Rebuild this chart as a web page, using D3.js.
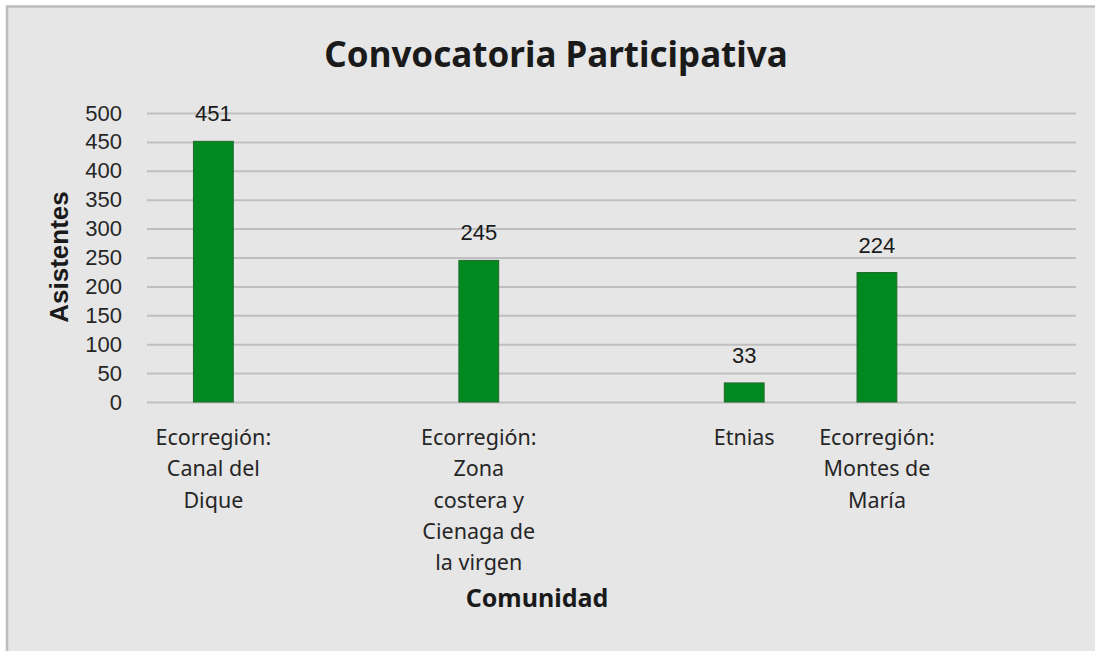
<!DOCTYPE html>
<html>
<head>
<meta charset="utf-8">
<script src="https://cdn.jsdelivr.net/npm/d3@7"></script>
<style>
  html, body { margin: 0; padding: 0; background: #ffffff; }
  svg { display: block; }
</style>
</head>
<body>
<svg id="chart" width="1095" height="651"></svg>
<script>
// ---- data ----
const title = "Convocatoria Participativa";
const xTitle = "Comunidad";
const yTitle = "Asistentes";
const categories = [
  ["Ecorregión:", "Canal del", "Dique"],
  [],
  ["Ecorregión:", "Zona", "costera y", "Cienaga de", "la virgen"],
  [],
  ["Etnias"],
  ["Ecorregión:", "Montes de", "María"],
  []
];
const values = [451, null, 245, null, 33, 224, null];
const yTicks = [0, 50, 100, 150, 200, 250, 300, 350, 400, 450, 500];

// ---- layout ----
const W = 1095, H = 651;
const plot = { left: 147, right: 1076, top: 113, bottom: 402 };
const svg = d3.select("#chart");

svg.append("rect")
  .attr("x", 7).attr("y", 6.5)
  .attr("width", W + 10).attr("height", H + 10)
  .attr("fill", "#e6e6e6")
  .attr("stroke", "#bdbdbd").attr("stroke-width", 2.5);

const x = d3.scaleBand()
  .domain(d3.range(categories.length))
  .range([plot.left, plot.right])
  .paddingInner(0.7).paddingOuter(0.35);

const y = d3.scaleLinear().domain([0, 500]).range([plot.bottom, plot.top]);

// gridlines
const yAxis = d3.axisLeft(y).tickValues(yTicks)
  .tickSize(-(plot.right - plot.left)).tickPadding(25);
const gy = svg.append("g").attr("transform", `translate(${plot.left},0)`).call(yAxis);
gy.select(".domain").remove();
gy.selectAll(".tick line").attr("stroke", "#bfbfbf").attr("stroke-width", 2);
gy.selectAll(".tick text")
  .attr("font-family", "Liberation Sans, Arial, sans-serif")
  .attr("font-size", 22).attr("fill", "#262626");

// bars
const idx = d3.range(values.length).filter(i => values[i] != null);
svg.append("g").selectAll("rect").data(idx).join("rect")
  .attr("x", i => x(i))
  .attr("y", i => y(values[i]))
  .attr("width", x.bandwidth())
  .attr("height", i => y(0) - y(values[i]))
  .attr("fill", "#00891e")
  .attr("stroke", "#23692d").attr("stroke-width", 1);

// data labels
svg.append("g").selectAll("text").data(idx).join("text")
  .attr("x", i => x(i) + x.bandwidth() / 2)
  .attr("y", i => y(values[i]) - 20)
  .attr("text-anchor", "middle")
  .attr("font-family", "Liberation Sans, Arial, sans-serif")
  .attr("font-size", 22).attr("fill", "#1a1a1a")
  .text(i => values[i]);

// x axis labels
const xAxis = d3.axisBottom(x).tickSize(0).tickFormat(() => "");
const gx = svg.append("g").attr("transform", `translate(0,${plot.bottom})`).call(xAxis);
gx.select(".domain").remove();
gx.selectAll(".tick").each(function(i) {
  const t = d3.select(this).select("text")
    .attr("font-family", "Noto Sans, sans-serif")
    .attr("font-size", 21.5).attr("fill", "#262626")
    .attr("y", 0).attr("dy", null);
  categories[i].forEach((line, k) => {
    t.append("tspan").attr("x", 0).attr("y", 43 + k * 31.3).text(line);
  });
});

// titles
svg.append("text")
  .attr("x", 556).attr("y", 67)
  .attr("text-anchor", "middle")
  .attr("font-family", "Noto Sans, sans-serif").attr("font-weight", "bold")
  .attr("font-size", 35).attr("fill", "#1a1a1a")
  .text(title);

svg.append("text")
  .attr("x", 537).attr("y", 607)
  .attr("text-anchor", "middle")
  .attr("font-family", "Noto Sans, sans-serif").attr("font-weight", "bold")
  .attr("font-size", 25).attr("fill", "#1a1a1a")
  .text(xTitle);

svg.append("text")
  .attr("transform", `translate(68,257) rotate(-90)`)
  .attr("text-anchor", "middle")
  .attr("font-family", "Liberation Sans, Arial, sans-serif").attr("font-weight", "bold")
  .attr("font-size", 26).attr("fill", "#1a1a1a")
  .text(yTitle);
</script>
</body>
</html>
